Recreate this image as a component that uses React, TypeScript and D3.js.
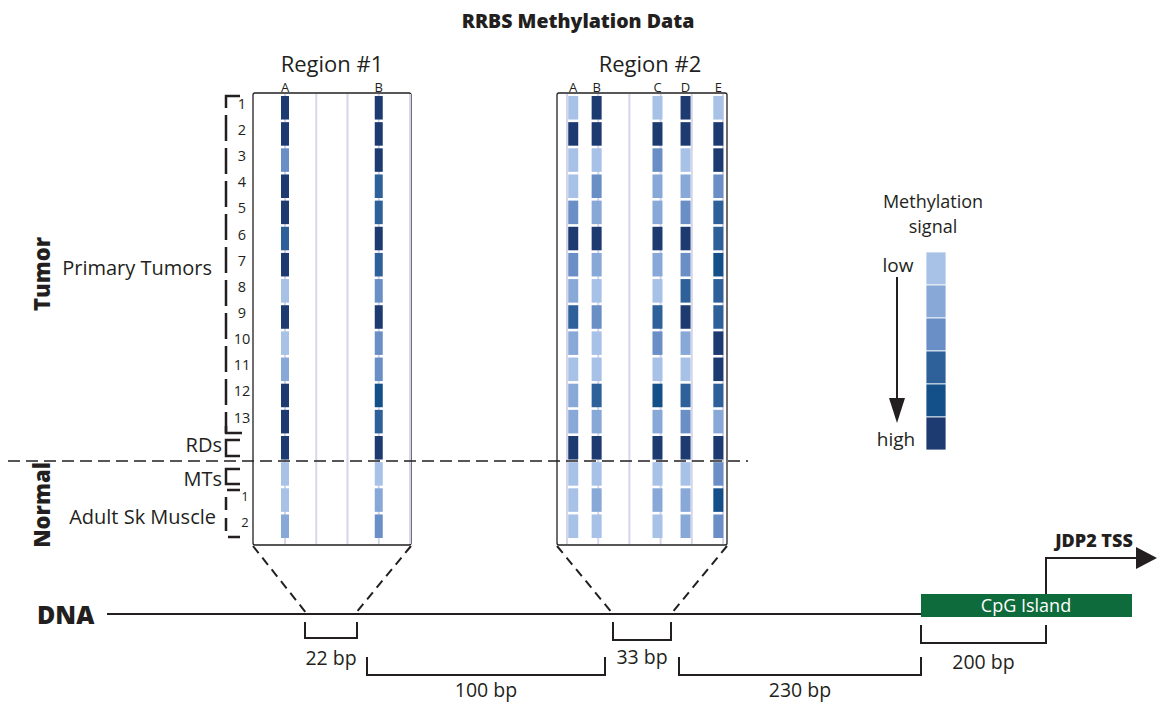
import React from "react";
import * as d3 from "d3";

// sample rows (top to bottom)
const rowIds = ["T1", "T2", "T3", "T4", "T5", "T6", "T7", "T8", "T9", "T10", "T11", "T12", "T13", "RD", "MT", "N1", "N2"];
const rowLabels = ["1", "2", "3", "4", "5", "6", "7", "8", "9", "10", "11", "12", "13", "", "", "1", "2"];

// methylation level 1 (low) .. 6 (high)
const levelColors = ["#a7c1e7", "#88a8d7", "#6a8fc6", "#2e6199", "#134f88", "#1d3b71"];
const legendLevels = [1, 2, 3, 4, 5, 6];

// CpG sites in each region (index), and the measured columns
const region1Sites = [0, 1, 2, 3, 4];
const region1Cols = ["A", "B"];
const region1ColSite = [0, 3];
const region1Values = [
  [6, 6, 3, 6, 6, 4, 6, 1, 6, 1, 2, 6, 6, 6, 1, 1, 2],
  [6, 6, 6, 4, 4, 6, 4, 3, 6, 3, 3, 5, 4, 6, 1, 2, 3],
];

const region2Sites = [0, 1, 2, 3, 4, 5];
const region2Cols = ["A", "B", "C", "D", "E"];
const region2ColSite = [0.2, 0.95, 2.9, 3.8, 4.85];
const region2Values = [
  [1, 6, 1, 1, 3, 6, 3, 2, 4, 2, 1, 2, 2, 6, 1, 1, 1],
  [6, 6, 1, 3, 2, 6, 2, 1, 3, 1, 1, 4, 2, 6, 1, 2, 1],
  [1, 6, 3, 2, 2, 6, 2, 1, 4, 3, 1, 5, 2, 6, 1, 2, 1],
  [6, 6, 1, 2, 3, 6, 3, 4, 6, 2, 1, 4, 3, 6, 1, 2, 2],
  [1, 6, 6, 3, 4, 4, 5, 4, 4, 6, 6, 4, 2, 6, 3, 5, 3],
];

// distances along the DNA (bp)
const spanLabels = ["22 bp", "100 bp", "33 bp", "230 bp", "200 bp"];

const FONT = "'Open Sans', 'DejaVu Sans', sans-serif";
const W = 1157;
const H = 704;

const color = d3.scaleOrdinal<number, string>().domain(legendLevels).range(levelColors);
const y = d3.scaleBand<string>().domain(rowIds).range([96, 538]).paddingInner(0.1);

function Region({ x0, x1, sites, siteRange, cols, colSite, values, barW, title, titleX }: any) {
  const sx = d3.scaleLinear().domain([sites[0], sites[sites.length - 1]]).range(siteRange);
  const top = 93;
  const bottom = 545;
  return (
    <g>
      <text x={titleX} y={72} textAnchor="middle" fontSize={22}>{title}</text>
      <rect x={x0} y={top} width={x1 - x0} height={bottom - top} fill="#fff" stroke="#231f20" strokeWidth={1.3} rx={2} />
      {sites.map((s: number) => (
        <line key={s} x1={sx(s)} x2={sx(s)} y1={top + 1} y2={bottom - 1} stroke="#d6d6ea" strokeWidth={2} />
      ))}
      {cols.map((c: string, i: number) => (
        <g key={c}>
          <text x={sx(colSite[i])} y={92} textAnchor="middle" fontSize={13}>{c}</text>
          {values[i].map((v: number, r: number) => (
            <rect key={r} x={sx(colSite[i]) - barW / 2} y={y(rowIds[r])!} width={barW} height={y.bandwidth()} fill={color(v)} />
          ))}
        </g>
      ))}
    </g>
  );
}

function Bracket({ x1, x2, y1, y2, label, ly }: any) {
  return (
    <g>
      <path d={`M${x1},${y1}V${y2}H${x2}V${y1}`} fill="none" stroke="#231f20" strokeWidth={2} />
      <text x={(x1 + x2) / 2} y={ly} textAnchor="middle" fontSize={19.5}>{label}</text>
    </g>
  );
}

export default function App() {
  const legendY = d3.scaleBand<number>().domain(legendLevels).range([252, 450]);
  return (
    <svg width={W} height={H} style={{ display: "block", position: "absolute", left: 0, top: 0 }} fontFamily={FONT} fill="#231f20">
      <rect width={W} height={H} fill="#fff" />
      <text x={578} y={28} textAnchor="middle" fontSize={19.5} fontWeight={800}>RRBS Methylation Data</text>

      <Region x0={253} x1={411} sites={region1Sites} siteRange={[285, 410]} cols={region1Cols} colSite={region1ColSite}
        values={region1Values} barW={8} title="Region #1" titleX={332} />
      <Region x0={557} x1={727} sites={region2Sites} siteRange={[567, 723]} cols={region2Cols} colSite={region2ColSite}
        values={region2Values} barW={10} title="Region #2" titleX={650} />

      {/* row numbers */}
      {rowLabels.map((l, i) => l ? (
        <text key={i} x={i >= 15 ? 245 : 242} y={y(rowIds[i])! + y.bandwidth() / 2 + 1} textAnchor="middle" fontSize={i >= 15 ? 13 : 14.5}>{l}</text>
      ) : null)}

      {/* sample group brackets */}
      <g fill="none" stroke="#231f20" strokeWidth={2.5}>
        <path d="M240,96H226V433" strokeDasharray="26,7" />
        <path d="M226,426V433H242" />
        <path d="M240,440H226V456H240" />
        <path d="M240,469H226V484H240" />
        <path d="M240,490H226V537H240" strokeDasharray="13,8" />
      </g>
      <text x={212} y={275} textAnchor="end" fontSize={20}>Primary Tumors</text>
      <text x={222} y={452} textAnchor="end" fontSize={20}>RDs</text>
      <text x={222} y={486} textAnchor="end" fontSize={20}>MTs</text>
      <text x={216} y={524} textAnchor="end" fontSize={20}>Adult Sk Muscle</text>
      <text transform="translate(50,274) rotate(-90)" textAnchor="middle" fontSize={22} fontWeight={800}>Tumor</text>
      <text transform="translate(50,505) rotate(-90)" textAnchor="middle" fontSize={22} fontWeight={800}>Normal</text>

      <line x1={8} x2={748} y1={461} y2={461} stroke="#231f20" strokeWidth={1.3} strokeDasharray="12,6" />

      {/* legend */}
      <text x={933} y={208} textAnchor="middle" fontSize={18}>Methylation</text>
      <text x={933} y={233} textAnchor="middle" fontSize={18}>signal</text>
      {legendLevels.map((l) => (
        <rect key={l} x={926} y={legendY(l)!} width={20} height={legendY.bandwidth()} fill={color(l)} stroke="#fff" strokeWidth={0.8} />
      ))}
      <text x={898} y={272} textAnchor="middle" fontSize={19}>low</text>
      <text x={896} y={446} textAnchor="middle" fontSize={19}>high</text>
      <line x1={897} x2={897} y1={277} y2={402} stroke="#231f20" strokeWidth={2} />
      <path d="M889,398L905,398L897,423Z" fill="#231f20" />

      {/* zoom lines to DNA */}
      <g stroke="#231f20" strokeWidth={2} strokeDasharray="9,6" fill="none">
        <line x1={253} y1={546} x2={307} y2={614} />
        <line x1={411} y1={546} x2={355} y2={614} />
        <line x1={557} y1={546} x2={613} y2={614} />
        <line x1={727} y1={546} x2={671} y2={614} />
      </g>

      {/* DNA */}
      <text x={37} y={624} fontSize={25} fontWeight={800}>DNA</text>
      <line x1={107} x2={921} y1={614} y2={614} stroke="#231f20" strokeWidth={2} />
      <rect x={921} y={594} width={211} height={23} fill="#0e6b3b" />
      <text x={1026} y={612} textAnchor="middle" fontSize={18} fill="#fff">CpG Island</text>
      <path d="M1046,594V558H1140" fill="none" stroke="#231f20" strokeWidth={2} />
      <path d="M1136,547L1157,558L1136,569Z" fill="#231f20" />
      <text x={1094} y={547} textAnchor="middle" fontSize={18} fontWeight={800}>JDP2 TSS</text>

      <Bracket x1={305} x2={357} y1={622} y2={638} label={spanLabels[0]} ly={665} />
      <Bracket x1={367} x2={605} y1={657} y2={675} label={spanLabels[1]} ly={697} />
      <Bracket x1={613} x2={671} y1={622} y2={640} label={spanLabels[2]} ly={664} />
      <Bracket x1={679} x2={921} y1={657} y2={675} label={spanLabels[3]} ly={697} />
      <Bracket x1={921} x2={1046} y1={625} y2={643} label={spanLabels[4]} ly={669} />
    </svg>
  );
}
